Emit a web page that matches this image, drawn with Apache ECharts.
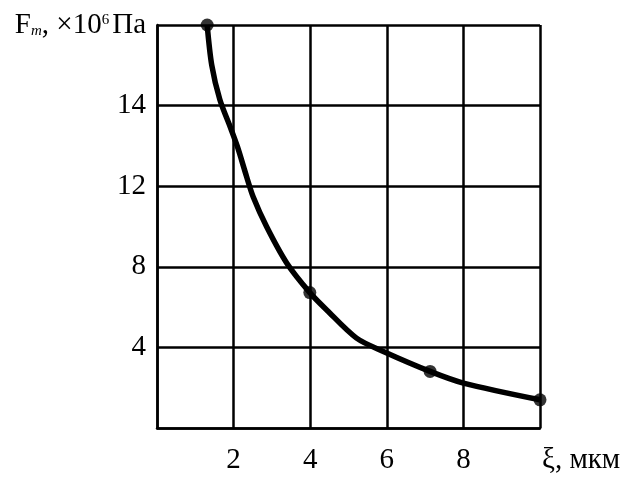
<!DOCTYPE html>
<html><head><meta charset="utf-8">
<script src="https://cdn.jsdelivr.net/npm/echarts@6/dist/echarts.min.js"></script>
<style>html,body{margin:0;padding:0;background:#fff}#c{width:635px;height:477px}</style>
</head><body><div id="c"></div>
<script>
// curve (x in мкм, y in axis units where gridlines are at 4,8,12,16,20)
const xi = [1.31, 1.43, 1.64, 1.91, 2.10, 2.34, 2.51, 2.86, 3.39, 3.99, 4.43, 5.21, 5.91, 7.13, 8.00, 10.0];
const fm = [20.0, 18.0, 16.3, 14.95, 13.96, 12.47, 11.48, 10.0, 8.18, 6.72, 5.86, 4.46, 3.80, 2.81, 2.23, 1.40];
const dotX = [1.31, 3.99, 7.13, 10.0];
const dotY = [20.0, 6.72, 2.81, 1.40];
const xTickLabels = {2: '2', 4: '4', 6: '6', 8: '8'};
const xName = 'ξ, мкм';
const yTickLabels = {4: '4', 8: '8', 12: '12', 16: '14', 20: 'TITLE'};

const font = 'Liberation Serif';
const fs = 29;
const chart = echarts.init(document.getElementById('c'));
chart.setOption({
  animation: false,
  backgroundColor: '#fff',
  grid: {left: 157, right: 95, top: 25, bottom: 49},
  xAxis: {
    type: 'value', min: 0, max: 10, interval: 2,
    name: xName, nameLocation: 'end', nameGap: 2,
    nameTextStyle: {fontFamily: font, fontSize: fs, color: '#000', align: 'left', verticalAlign: 'top', padding: [18, 0, 0, 0]},
    axisLine: {show: true, onZero: false, lineStyle: {color: '#000', width: 2.5}},
    axisTick: {show: false},
    splitLine: {show: true, lineStyle: {color: '#000', width: 2.5}},
    axisLabel: {
      margin: 18, color: '#000', fontFamily: font, fontSize: fs,
      formatter: v => xTickLabels[v] || ''
    }
  },
  yAxis: {
    type: 'value', min: 0, max: 20, interval: 4,
    axisLine: {show: true, onZero: false, lineStyle: {color: '#000', width: 2.5}},
    axisTick: {show: false},
    splitLine: {show: true, lineStyle: {color: '#000', width: 2.5}},
    axisLabel: {
      margin: 11, color: '#000', fontFamily: font, fontSize: fs,
      formatter: v => {
        const t = yTickLabels[v];
        if (!t) return '';
        if (t === 'TITLE') return '{a|F}{s|m}{a|, ×10}{p|6}{a|Па}';
        return t;
      },
      rich: {
        a: {fontFamily: font, fontSize: fs, color: '#000', lineHeight: 32, verticalAlign: 'middle'},
        s: {fontFamily: font, fontSize: 15, fontStyle: 'italic', color: '#000', lineHeight: 32, verticalAlign: 'bottom', padding: [0, 0, 2, 0]},
        p: {fontFamily: font, fontSize: 15, color: '#000', lineHeight: 32, verticalAlign: 'top', padding: [4, 3, 0, 0]}
      }
    }
  },
  series: [
    {
      type: 'line', data: xi.map((x, i) => [x, fm[i]]),
      smooth: 0.3, showSymbol: false, lineStyle: {color: '#000', width: 5.5}
    },
    {
      type: 'scatter', data: dotX.map((x, i) => [x, dotY[i]]),
      symbol: 'circle', symbolSize: 13, itemStyle: {color: '#000'}
    }
  ]
});
</script></body></html>
